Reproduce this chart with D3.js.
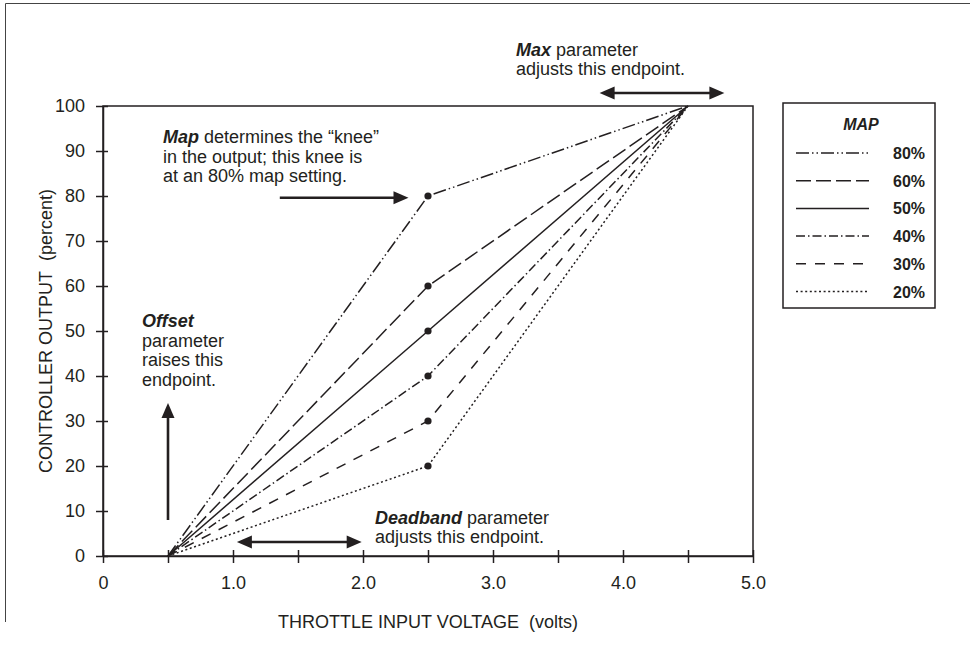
<!DOCTYPE html>
<html>
<head>
<meta charset="utf-8">
<script src="https://cdn.jsdelivr.net/npm/d3@7"></script>
<style>
  html, body { margin: 0; padding: 0; background: #fff; }
  svg { display: block; }
  text { font-family: "Liberation Sans", Arial, Helvetica, sans-serif; fill: #231f20; }
</style>
</head>
<body>
<svg id="chart" width="970" height="658"></svg>
<script>
// ---------- data ----------
const mapLabels = ["80%", "60%", "50%", "40%", "30%", "20%"];
const mapValues = [80, 60, 50, 40, 30, 20];          // knee output (percent)
const startPoint = [0.5, 0];                          // deadband endpoint (volts, percent)
const kneeVoltage = 2.5;                              // knee position (volts)
const endPoint = [4.5, 100];                          // max endpoint (volts, percent)
const xTicks = [0, 0.5, 1, 1.5, 2, 2.5, 3, 3.5, 4, 4.5, 5];
const xTickLabels = ["0", "", "1.0", "", "2.0", "", "3.0", "", "4.0", "", "5.0"];
const yTicks = [0, 10, 20, 30, 40, 50, 60, 70, 80, 90, 100];
const dashStyles = ["13,3,1.5,3,1.5,3", "15,5", null, "9,3,1.5,3", "10,9", "2,2.6"];
// arrows in data units: [x1, y1, x2, y2]
const offsetArrow = [0.5, 8, 0.5, 34];
const deadbandArrow = [1.03, 3.1, 1.99, 3.1];
const maxArrow = [3.82, 102.9, 4.78, 102.9];
const mapArrow = [1.36, 79.6, 2.35, 79.6];

// ---------- layout ----------
const svg = d3.select("#chart");
const x = d3.scaleLinear().domain([0, 5]).range([103, 753]);
const y = d3.scaleLinear().domain([0, 100]).range([556, 106]);
const ink = "#231f20";

// outer frame (top + left)
svg.append("line").attr("x1", 5.5).attr("y1", 3.5).attr("x2", 970).attr("y2", 3.5)
  .attr("stroke", "#444").attr("stroke-width", 1);
svg.append("line").attr("x1", 5.5).attr("y1", 3.5).attr("x2", 5.5).attr("y2", 622)
  .attr("stroke", "#444").attr("stroke-width", 1);

// plot box
svg.append("rect")
  .attr("x", x(0)).attr("y", y(100))
  .attr("width", x(5) - x(0)).attr("height", y(0) - y(100))
  .attr("fill", "none").attr("stroke", ink).attr("stroke-width", 1.5);

// x axis
const xAxis = svg.append("g").attr("transform", `translate(0,${y(0)})`)
  .call(d3.axisBottom(x).tickValues(xTicks)
    .tickFormat((d, i) => xTickLabels[i]).tickSizeOuter(0).tickPadding(14));
xAxis.select(".domain").attr("stroke", ink).attr("stroke-width", 1.5);
xAxis.selectAll(".tick line").attr("y1", -6).attr("y2", 7).attr("stroke", ink).attr("stroke-width", 1.5);
xAxis.selectAll(".tick text").attr("font-size", 18).attr("font-family", null).attr("fill", ink);

// y axis
const yAxis = svg.append("g").attr("transform", `translate(${x(0)},0)`)
  .call(d3.axisLeft(y).tickValues(yTicks).tickFormat(d3.format("d")).tickSizeOuter(0).tickPadding(12));
yAxis.select(".domain").attr("stroke", ink).attr("stroke-width", 1.5);
yAxis.selectAll(".tick line").attr("x1", -7).attr("x2", 5).attr("stroke", ink).attr("stroke-width", 1.5);
yAxis.selectAll(".tick text").attr("font-size", 18).attr("font-family", null).attr("fill", ink);

// axis titles
svg.append("text").attr("x", (x(0) + x(5)) / 2).attr("y", 628)
  .attr("text-anchor", "middle").attr("font-size", 18)
  .text("THROTTLE INPUT VOLTAGE\u00a0\u00a0(volts)");
svg.append("text")
  .attr("transform", `translate(52,${(y(0) + y(100)) / 2}) rotate(-90)`)
  .attr("text-anchor", "middle").attr("font-size", 18)
  .text("CONTROLLER OUTPUT\u00a0\u00a0(percent)");

// series
const line = d3.line().x(d => x(d[0])).y(d => y(d[1]));
mapValues.forEach((m, i) => {
  const pts = [startPoint, [kneeVoltage, m], endPoint];
  svg.append("path").attr("d", line(pts))
    .attr("fill", "none").attr("stroke", ink).attr("stroke-width", 1.5)
    .attr("stroke-dasharray", dashStyles[i]);
});
svg.selectAll("circle.knee").data(mapValues).enter().append("circle")
  .attr("class", "knee").attr("cx", x(kneeVoltage)).attr("cy", d => y(d))
  .attr("r", 3.6).attr("fill", ink);

// arrows
function arrow(a, both) {
  const x1 = x(a[0]), y1 = y(a[1]), x2 = x(a[2]), y2 = y(a[3]);
  const ang = Math.atan2(y2 - y1, x2 - x1);
  const L = 15, W = 6.5;
  function head(tx, ty, dir) {
    const bx = tx - L * Math.cos(dir), by = ty - L * Math.sin(dir);
    const px = -Math.sin(dir) * W, py = Math.cos(dir) * W;
    return `M${tx},${ty}L${bx + px},${by + py}L${bx - px},${by - py}Z`;
  }
  const sx = both ? x1 + L * Math.cos(ang) * 0.8 : x1;
  const sy = both ? y1 + L * Math.sin(ang) * 0.8 : y1;
  const ex = x2 - L * Math.cos(ang) * 0.8, ey = y2 - L * Math.sin(ang) * 0.8;
  svg.append("line").attr("x1", sx).attr("y1", sy).attr("x2", ex).attr("y2", ey)
    .attr("stroke", ink).attr("stroke-width", 2.6);
  svg.append("path").attr("d", head(x2, y2, ang)).attr("fill", ink);
  if (both) svg.append("path").attr("d", head(x1, y1, ang + Math.PI)).attr("fill", ink);
}
arrow(offsetArrow, false);
arrow(deadbandArrow, true);
arrow(maxArrow, true);
arrow(mapArrow, false);

// annotations
function note(x0, y0, lines, lh) {
  const t = svg.append("text").attr("x", x0).attr("y", y0).attr("font-size", 18);
  lines.forEach((ln, i) => {
    const ts = t.append("tspan").attr("x", x0).attr("dy", i === 0 ? 0 : lh);
    ln.forEach(seg => {
      const s = ts.append("tspan").text(seg.t);
      if (seg.b) s.attr("font-weight", "bold").attr("font-style", "italic");
    });
  });
}
note(163, 143, [
  [{t: "Map", b: true}, {t: " determines the \u201cknee\u201d"}],
  [{t: "in the output; this knee is"}],
  [{t: "at an 80% map setting."}]
], 19.5);
note(142, 327, [
  [{t: "Offset", b: true}],
  [{t: "parameter"}],
  [{t: "raises this"}],
  [{t: "endpoint."}]
], 19.5);
note(375, 524, [
  [{t: "Deadband", b: true}, {t: " parameter"}],
  [{t: "adjusts this endpoint."}]
], 19);
note(516, 56, [
  [{t: "Max", b: true}, {t: " parameter"}],
  [{t: "adjusts this endpoint."}]
], 19);

// legend
const lg = svg.append("g");
lg.append("rect").attr("x", 783).attr("y", 103).attr("width", 152).attr("height", 205)
  .attr("fill", "none").attr("stroke", ink).attr("stroke-width", 1.5);
lg.append("text").attr("x", 861).attr("y", 130).attr("text-anchor", "middle")
  .attr("font-size", 16).attr("font-weight", "bold").attr("font-style", "italic").text("MAP");
mapLabels.forEach((lab, i) => {
  const cy = 153 + i * 27.7;
  lg.append("line").attr("x1", 796).attr("x2", 869).attr("y1", cy).attr("y2", cy)
    .attr("stroke", ink).attr("stroke-width", 1.5).attr("stroke-dasharray", dashStyles[i]);
  lg.append("text").attr("x", 893).attr("y", cy + 6).attr("font-size", 16)
    .attr("font-weight", "bold").text(lab);
});
</script>
</body>
</html>
